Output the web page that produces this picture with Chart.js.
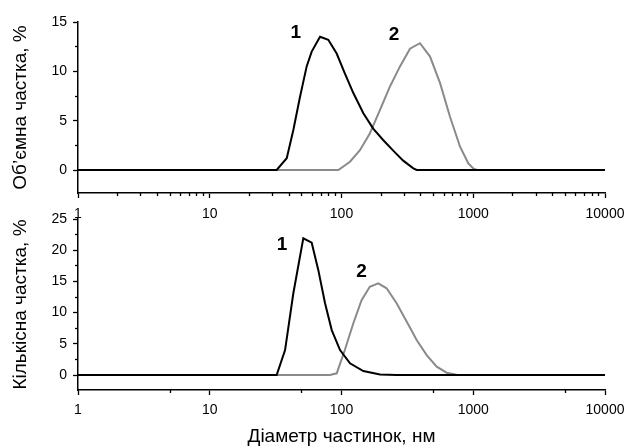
<!DOCTYPE html>
<html>
<head>
<meta charset="utf-8">
<script src="https://cdn.jsdelivr.net/npm/chart.js@4/dist/chart.umd.min.js"></script>
<style>
  html, body { margin: 0; background: #fff; }
  #wrap { position: relative; width: 627px; height: 448px; }
  canvas { position: absolute; left: 0; top: 0; }
</style>
</head>
<body>
<div id="wrap">
  <canvas id="volume" width="627" height="448"></canvas>
  <canvas id="number" width="627" height="448"></canvas>
</div>
<script>
// diameters, nm, and percent values
const volX1 = [1, 32.2, 38.4, 43.1, 48.4, 54.4, 59.4, 68.7, 79.4, 91.9, 106, 123, 146.5, 174, 207, 247, 294, 351, 372, 10000];
const volY1 = [0, 0, 1.2, 4.05, 7.4, 10.5, 12.0, 13.5, 13.2, 11.8, 9.8, 7.8, 5.75, 4.2, 3.04, 1.96, 0.95, 0.17, 0, 0];
const volX2 = [1, 94.6, 116, 138, 164, 196, 233, 278, 331, 394, 470, 560, 666, 794, 917, 1000, 1060, 10000];
const volY2 = [0, 0, 0.84, 2.0, 3.7, 6.1, 8.45, 10.5, 12.3, 12.85, 11.5, 8.8, 5.4, 2.36, 0.68, 0.17, 0, 0];

const numX1 = [1, 32.2, 37.3, 43.1, 51.3, 59.4, 66.7, 75, 84.3, 97.5, 116, 146.5, 196, 262, 10000];
const numY1 = [0, 0, 4.0, 13.1, 21.9, 21.2, 16.8, 11.5, 7.2, 4.0, 1.87, 0.64, 0.1, 0, 0];
const numX2 = [1, 81.8, 92, 106, 123, 142, 164, 190, 220, 262, 313, 372, 443, 528, 629, 748, 945, 10000];
const numY2 = [0, 0, 0.27, 4.0, 8.3, 12.0, 14.15, 14.7, 13.9, 11.5, 8.55, 5.6, 3.2, 1.34, 0.37, 0.05, 0, 0];

const decadeTicks = [1, 10, 100, 1000, 10000];
const volMinorX = [2, 3, 4, 5, 6, 7, 8, 9];
const numMinorX = [5];
const volYTicks = [0, 5, 10, 15];
const volYMinor = [2.5, 7.5, 12.5];
const numYTicks = [0, 5, 10, 15, 20, 25];
const numYMinor = [2.5, 7.5, 12.5, 17.5, 22.5];

const curveNames = ['1', '2'];
const volNoteX = [44.9, 250];
const volNoteY = [13.9, 13.7];
const numNoteX = [35.3, 142];
const numNoteY = [20.8, 16.5];

const FONT = "'Liberation Sans', Arial, sans-serif";
const GRAY = '#8a8a8a';

const pairs = (xs, ys) => xs.map((x, i) => ({ x, y: ys[i] }));
const spread = mults => decadeTicks.slice(0, 4).flatMap(d => mults.map(m => d * m));
const setTicks = values => axis => { axis.ticks = values.map(value => ({ value })); };
const noOverhang = axis => {
  axis.paddingLeft = 0;
  axis.paddingRight = 0;
  axis.paddingTop = 0;
  axis.paddingBottom = 0;
};

const notesPlugin = {
  id: 'notes',
  afterDatasetsDraw(chart, args, opts) {
    const { ctx, scales: { x, y } } = chart;
    ctx.save();
    ctx.font = `bold 19px ${FONT}`;
    ctx.fillStyle = '#000';
    ctx.textAlign = 'center';
    ctx.textBaseline = 'middle';
    opts.text.forEach((t, i) => {
      ctx.fillText(t, x.getPixelForValue(opts.x[i]), y.getPixelForValue(opts.y[i]));
    });
    ctx.restore();
  },
};

function drawPanel(id, cfg) {
  const tickFont = { family: FONT, size: 14 };
  return new Chart(document.getElementById(id), {
    type: 'line',
    data: {
      datasets: [
        { data: pairs(cfg.x1, cfg.y1), borderColor: '#000', borderWidth: 2, pointRadius: 0, tension: 0 },
        { data: pairs(cfg.x2, cfg.y2), borderColor: GRAY, borderWidth: 2, pointRadius: 0, tension: 0 },
      ],
    },
    plugins: [notesPlugin],
    options: {
      responsive: false,
      animation: false,
      events: [],
      layout: { padding: cfg.padding },
      plugins: {
        legend: { display: false },
        tooltip: { enabled: false },
        notes: cfg.notes,
      },
      scales: {
        x: {
          type: 'logarithmic',
          min: 1,
          max: 10000,
          weight: 1,
          afterBuildTicks: setTicks(decadeTicks),
          afterFit: axis => { axis.height = cfg.xHeight; noOverhang(axis); },
          grid: { drawOnChartArea: false, color: '#000', tickLength: 5, tickWidth: 1.3 },
          border: { color: '#000', width: 1.5 },
          ticks: {
            autoSkip: false, maxRotation: 0, padding: cfg.xPad, color: '#000', font: tickFont,
            callback: v => String(v),
          },
          title: cfg.xTitle
            ? { display: true, text: cfg.xTitle, color: '#000', font: { family: FONT, size: 19, lineHeight: 1 }, padding: { top: 0, bottom: 2 } }
            : { display: false },
        },
        xm: {
          type: 'logarithmic',
          position: 'bottom',
          min: 1,
          max: 10000,
          weight: 0,
          afterBuildTicks: setTicks(spread(cfg.minorX)),
          afterFit: axis => { axis.height = 0; noOverhang(axis); },
          grid: { drawOnChartArea: false, color: '#000', tickLength: 3, tickWidth: 1.3 },
          border: { display: false },
          ticks: { display: false },
        },
        y: {
          min: cfg.yMin,
          max: cfg.yMax,
          weight: 1,
          afterBuildTicks: setTicks(cfg.yTicks),
          afterFit: axis => { axis.width = 78; noOverhang(axis); },
          grid: { drawOnChartArea: false, color: '#000', tickLength: 5, tickWidth: 1.3 },
          border: { color: '#000', width: 1.5 },
          ticks: { padding: 6, color: '#000', font: tickFont },
          title: {
            display: true, text: cfg.yTitle, color: '#000',
            font: { family: FONT, size: 19, lineHeight: 1 }, padding: { top: 11, bottom: 0 },
          },
        },
        ym: {
          position: 'left',
          min: cfg.yMin,
          max: cfg.yMax,
          weight: 0,
          afterBuildTicks: setTicks(cfg.yMinor),
          afterFit: axis => { axis.width = 0; noOverhang(axis); },
          grid: { drawOnChartArea: false, color: '#000', tickLength: 3, tickWidth: 1.3 },
          border: { display: false },
          ticks: { display: false },
        },
      },
    },
  });
}

drawPanel('volume', {
  x1: volX1, y1: volY1, x2: volX2, y2: volY2,
  yMin: -2.33, yMax: 15, yTicks: volYTicks, yMinor: volYMinor, minorX: volMinorX,
  yTitle: 'Об\u2019ємна частка, %',
  xHeight: 30, xPad: 8,
  padding: { top: 22, right: 22, left: 0, bottom: 225 },
  notes: { text: curveNames, x: volNoteX, y: volNoteY },
});

drawPanel('number', {
  x1: numX1, y1: numY1, x2: numX2, y2: numY2,
  yMin: -2.4, yMax: 25, yTicks: numYTicks, yMinor: numYMinor, minorX: numMinorX,
  yTitle: 'Кількісна частка, %',
  xTitle: 'Діаметр частинок, нм',
  xHeight: 58, xPad: 7,
  padding: { top: 219, right: 22, left: 0, bottom: 0 },
  notes: { text: curveNames, x: numNoteX, y: numNoteY },
});
</script>
</body>
</html>
